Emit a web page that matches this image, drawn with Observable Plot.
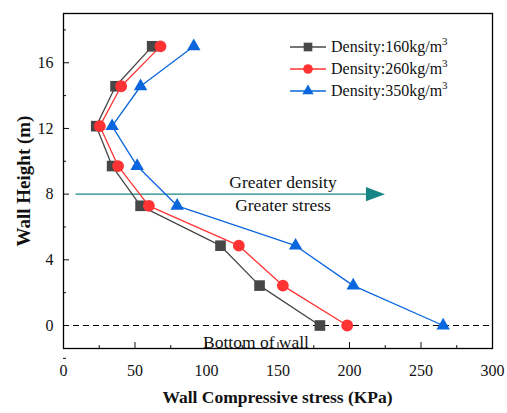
<!DOCTYPE html>
<html>
<head>
<meta charset="utf-8">
<script src="https://cdn.jsdelivr.net/npm/d3@7"></script>
<script src="https://cdn.jsdelivr.net/npm/@observablehq/plot@0.6"></script>
<style>
  body { margin: 0; background: #fff; }
  #chart { position: relative; width: 507px; height: 413px; font-family: "Liberation Serif", serif; }
  #chart svg, #chart svg text { font-family: "Liberation Serif", serif; }
  #legend { position: absolute; left: 289px; top: 36px; font-family: "Liberation Serif", serif; font-size: 16px; line-height: 22px; color: #111; }
  #legend .row { display: flex; align-items: center; white-space: nowrap; }
  #legend svg { margin-right: 4px; }
  #legend sup { font-size: 11px; vertical-align: 7px; line-height: 0; }
</style>
</head>
<body>
<div id="chart"><div id="legend"></div></div>
<script>
// Wall height (m) at each measuring point, top to bottom
const heights = [17, 14.57, 12.14, 9.71, 7.29, 4.86, 2.43, 0];

// Compressive stress (kPa) at each height, per backfill density
const stress160 = [62, 36.4, 22.9, 34, 53.9, 109.8, 137.1, 179.3];
const stress260 = [67.8, 40.3, 25.4, 38.2, 59.7, 122.6, 153.4, 198.4];
const stress350 = [91.1, 53.9, 34, 51.5, 79.5, 162.3, 202.6, 265.5];

const seriesNames = ["160", "260", "350"];
const seriesColors = ["#474747", "#ff3333", "#0a66dd"];
const seriesSymbols = ["square", "circle", "triangle"];
const seriesRadii = [6, 5.9, 5];
const seriesValues = [stress160, stress260, stress350];

const xTicks = [0, 50, 100, 150, 200, 250, 300];
const xMinor = [25, 75, 125, 175, 225, 275];
const yTicks = [0, 4, 8, 12, 16];
const yMinor = [-2, 2, 6, 10, 14, 18];

const rows = seriesNames.flatMap((name, i) =>
  heights.map((h, j) => ({density: name, height: h, stress: seriesValues[i][j]}))
);

const teal = "#168584";

// filled arrowhead pointing right, drawn from its base
const arrowHead = {
  draw(context) {
    context.moveTo(0, -7.2);
    context.lineTo(19, 0);
    context.lineTo(0, 7.2);
    context.closePath();
  }
};

const marks = [];
// bottom-of-wall reference
marks.push(Plot.ruleY([0], {stroke: "#000", strokeWidth: 1.2, strokeDasharray: "6,4"}));
marks.push(Plot.text(["Bottom of wall"], {x: 134.6, y: -1.0, fontSize: 17.5, fill: "#111"}));

// trend arrow
marks.push(Plot.link([{x1: 8.4, x2: 212, y: 8}], {x1: "x1", x2: "x2", y1: "y", y2: "y", stroke: teal, strokeWidth: 1.4}));
marks.push(Plot.dot([{x: 211.5, y: 8}], {x: "x", y: "y", symbol: arrowHead, fill: teal, stroke: "none"}));
marks.push(Plot.text(["Greater density"], {x: 153.5, y: 8.7, fontSize: 17.5, fill: "#111"}));
marks.push(Plot.text(["Greater stress"], {x: 153.5, y: 7.33, fontSize: 17.5, fill: "#111"}));

seriesNames.forEach((name, i) => {
  const d = rows.filter(r => r.density === name);
  marks.push(Plot.line(d, {x: "stress", y: "height", stroke: seriesColors[i], strokeWidth: 1.3}));
  marks.push(Plot.dot(d, {
    x: "stress", y: "height", symbol: seriesSymbols[i], fill: seriesColors[i], stroke: "none", r: seriesRadii[i]
  }));
});

// axes with inward ticks
marks.push(Plot.axisX({ticks: xTicks, tickSize: -6, tickPadding: 22, tickFormat: d => d, label: null, fontSize: 16}));
marks.push(Plot.axisX({ticks: xMinor, tickSize: -3, text: null, label: null}));
marks.push(Plot.axisY({ticks: yTicks, tickSize: -6, tickPadding: 16, tickFormat: d => d, label: null, fontSize: 16}));
marks.push(Plot.axisY({ticks: yMinor, tickSize: -3, text: null, label: null}));
marks.push(Plot.frame({stroke: "#000", strokeWidth: 1.3}));

const plot = Plot.plot({
  width: 507,
  height: 413,
  marginLeft: 63,
  marginRight: 15,
  marginTop: 13,
  marginBottom: 65,
  style: {fontFamily: "'Liberation Serif', serif", fontSize: "16px", color: "#111", background: "#fff"},
  x: {domain: [0, 300]},
  y: {domain: [-1.4, 19]},
  marks
});

// axis titles
const svg = d3.select(plot);
svg.append("text")
  .attr("x", 277.5).attr("y", 403)
  .attr("text-anchor", "middle")
  .attr("font-family", "'Liberation Serif', serif")
  .attr("font-weight", "bold").attr("font-size", 17.5)
  .attr("fill", "#111")
  .text("Wall Compressive stress (KPa)");
svg.append("text")
  .attr("transform", "translate(30,181) rotate(-90)")
  .attr("text-anchor", "middle")
  .attr("font-family", "'Liberation Serif', serif")
  .attr("font-weight", "bold").attr("font-size", 19)
  .attr("fill", "#111")
  .text("Wall Height (m)");

document.getElementById("chart").prepend(plot);

// legend
const legendSymbols = [d3.symbolSquare, d3.symbolCircle, d3.symbolTriangle];
const legendSizes = [75, 72, 55];
const legend = d3.select("#legend");
seriesNames.forEach((name, i) => {
  const row = legend.append("div").attr("class", "row");
  const s = row.append("svg").attr("width", 38).attr("height", 16);
  s.append("line").attr("x1", 1).attr("x2", 37).attr("y1", 8).attr("y2", 8)
    .attr("stroke", seriesColors[i]).attr("stroke-width", 1.3);
  s.append("path").attr("transform", "translate(19,8)")
    .attr("d", d3.symbol(legendSymbols[i], legendSizes[i])())
    .attr("fill", seriesColors[i]);
  const t = row.append("span");
  t.text(`Density:${name}kg/m`);
  t.append("sup").text("3");
});
</script>
</body>
</html>
